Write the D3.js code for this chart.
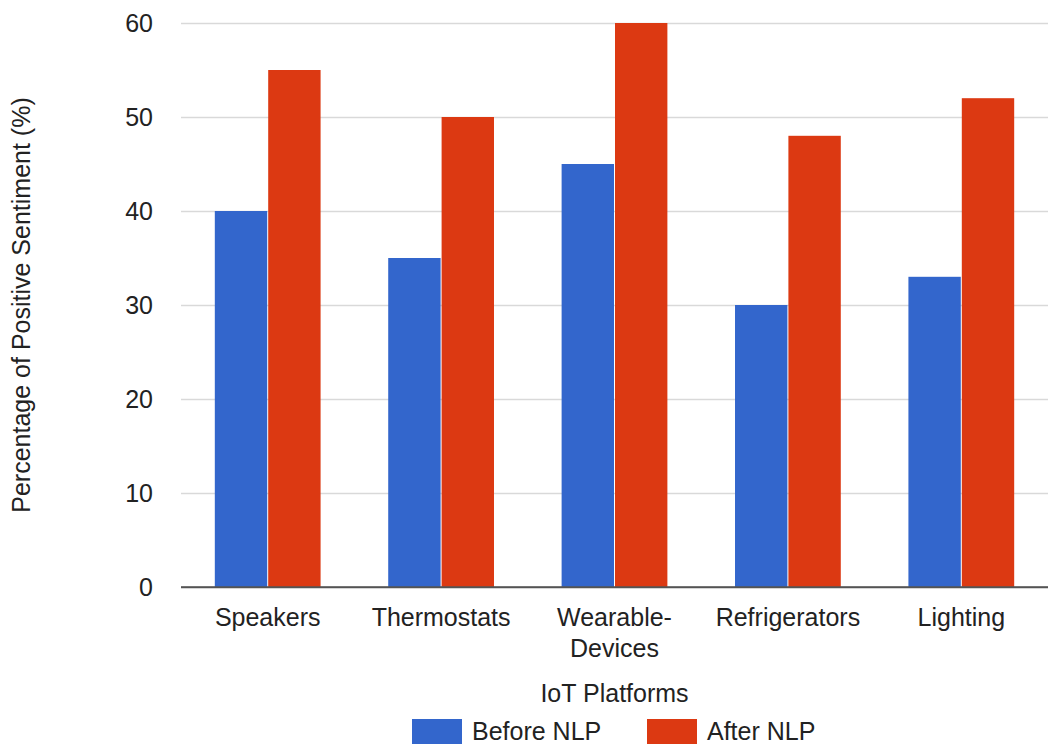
<!DOCTYPE html>
<html>
<head>
<meta charset="utf-8">
<script src="https://cdn.jsdelivr.net/npm/d3@7"></script>
<style>
  html, body { margin: 0; padding: 0; background: #fff; }
  svg { display: block; font-family: "Liberation Sans", Arial, sans-serif; }
</style>
</head>
<body>
<svg id="chart" width="1048" height="744"></svg>
<script>
// Positive sentiment per IoT platform, before and after NLP
const platforms = ["Speakers", "Thermostats", "Wearable-Devices", "Refrigerators", "Lighting"];
const platformLines = [["Speakers"], ["Thermostats"], ["Wearable-", "Devices"], ["Refrigerators"], ["Lighting"]];
const seriesNames = ["Before NLP", "After NLP"];
const beforeNLP = [40, 35, 45, 30, 33];
const afterNLP = [55, 50, 60, 48, 52];
const yTicks = [0, 10, 20, 30, 40, 50, 60];
const seriesColors = ["#3366cc", "#dc3912"];

const svg = d3.select("#chart");
const plot = { left: 181, right: 1048, top: 23, bottom: 587 };
const fontSize = 25;
const textColor = "#222";

const x0 = d3.scaleBand()
  .domain(platforms)
  .range([plot.left, plot.right])
  .paddingInner(0.39)
  .paddingOuter(0.195);

const x1 = d3.scaleBand()
  .domain(seriesNames)
  .range([0, x0.bandwidth()]);

const y = d3.scaleLinear()
  .domain([0, 60])
  .range([plot.bottom, plot.top]);

// Horizontal gridlines with value labels
const yAxis = d3.axisLeft(y)
  .tickValues(yTicks)
  .tickSize(-(plot.right - plot.left))
  .tickPadding(28)
  .tickFormat(d3.format("d"));

const gy = svg.append("g")
  .attr("transform", `translate(${plot.left},0)`)
  .call(yAxis);
gy.select(".domain").remove();
gy.selectAll(".tick line")
  .attr("stroke", d => d === 0 ? "#555" : "#d9d9d9")
  .attr("stroke-width", d => d === 0 ? 1.5 : 1.3);
gy.selectAll(".tick text")
  .attr("fill", textColor)
  .style("font-size", fontSize + "px")
  .style("font-family", "'Liberation Sans', Arial, sans-serif");

// Bars
const rows = platforms.map((p, i) => ({ platform: p, values: [beforeNLP[i], afterNLP[i]] }));

const groups = svg.append("g")
  .selectAll("g")
  .data(rows)
  .join("g")
  .attr("transform", d => `translate(${x0(d.platform)},0)`);

groups.selectAll("rect")
  .data(d => d.values.map((v, k) => ({ key: seriesNames[k], value: v, k })))
  .join("rect")
  .attr("x", d => x1(d.key) + (d.k === 1 ? 0.5 : 0))
  .attr("y", d => y(d.value))
  .attr("width", x1.bandwidth() - 0.5)
  .attr("height", d => y(0) - y(d.value))
  .attr("fill", d => seriesColors[d.k]);

// Baseline drawn over the bars
svg.append("line")
  .attr("x1", plot.left).attr("x2", plot.right)
  .attr("y1", y(0)).attr("y2", y(0))
  .attr("stroke", "#555").attr("stroke-width", 1.5);

// Category labels
const catLabels = svg.append("g")
  .selectAll("text")
  .data(platforms.map((p, i) => ({ p, lines: platformLines[i] })))
  .join("text")
  .attr("text-anchor", "middle")
  .attr("fill", textColor)
  .style("font-size", fontSize + "px")
  .attr("transform", d => `translate(${x0(d.p) + x0.bandwidth() / 2},626)`);

catLabels.selectAll("tspan")
  .data(d => d.lines)
  .join("tspan")
  .attr("x", 0)
  .attr("dy", (d, i) => i === 0 ? 0 : 31)
  .text(d => d);

// Axis titles
svg.append("text")
  .attr("x", (plot.left + plot.right) / 2)
  .attr("y", 702)
  .attr("text-anchor", "middle")
  .attr("fill", textColor)
  .style("font-size", fontSize + "px")
  .text("IoT Platforms");

svg.append("text")
  .attr("transform", `translate(30,${(plot.top + plot.bottom) / 2}) rotate(-90)`)
  .attr("text-anchor", "middle")
  .attr("fill", textColor)
  .style("font-size", fontSize + "px")
  .text("Percentage of Positive Sentiment (%)");

// Legend
const legendItems = [
  { name: seriesNames[0], color: seriesColors[0], x: 412 },
  { name: seriesNames[1], color: seriesColors[1], x: 647 }
];
const legend = svg.append("g")
  .selectAll("g")
  .data(legendItems)
  .join("g")
  .attr("transform", d => `translate(${d.x},719)`);
legend.append("rect")
  .attr("width", 50).attr("height", 25)
  .attr("fill", d => d.color);
legend.append("text")
  .attr("x", 60).attr("y", 21)
  .attr("fill", textColor)
  .style("font-size", fontSize + "px")
  .text(d => d.name);
</script>
</body>
</html>
